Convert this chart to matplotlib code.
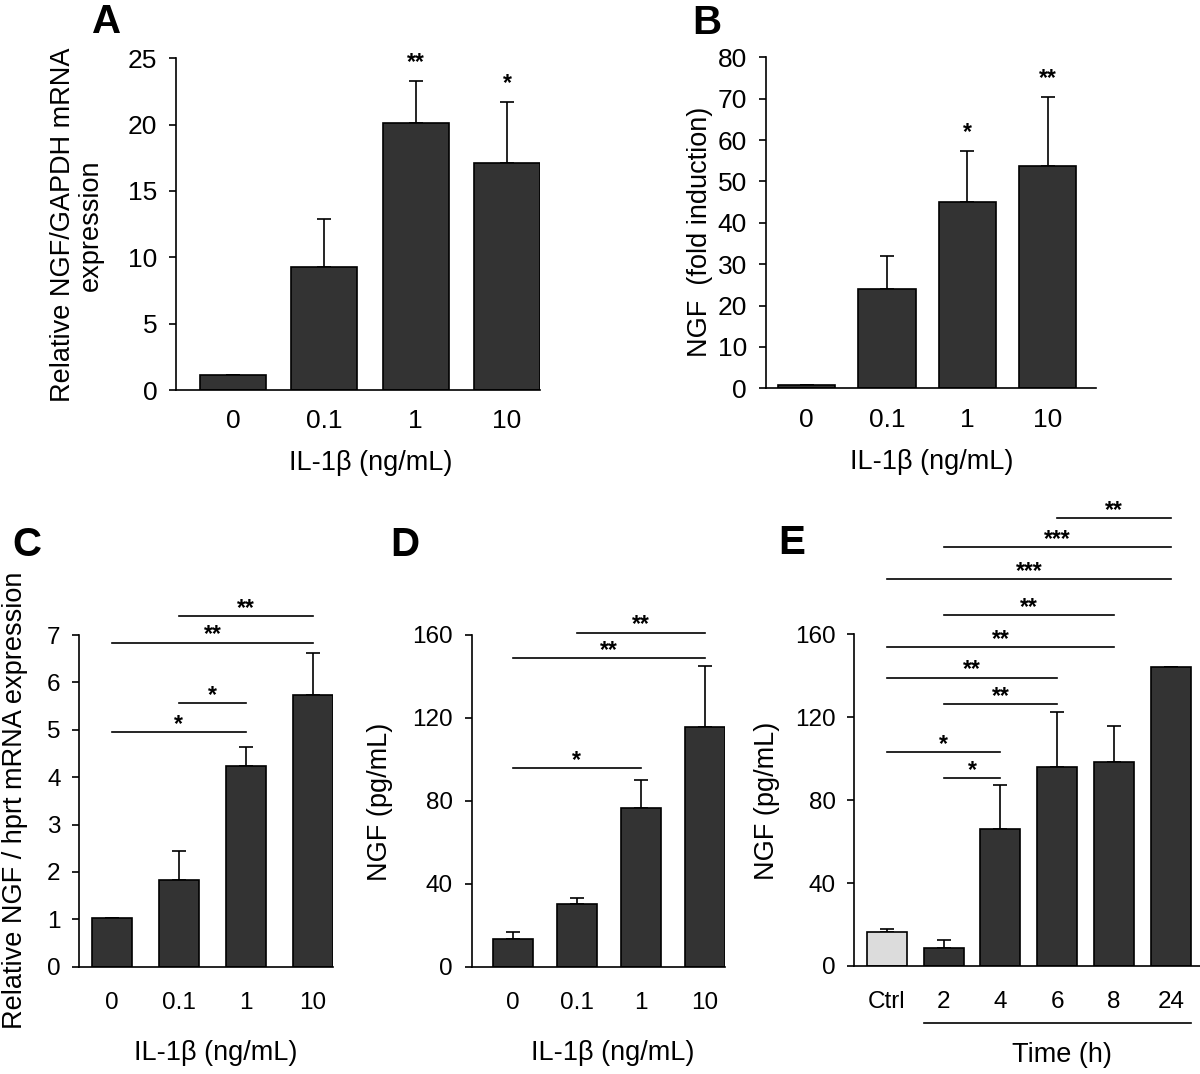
import matplotlib
matplotlib.use('Agg')
import matplotlib.pyplot as plt

plt.rcParams['font.family'] = ['Liberation Sans', 'DejaVu Sans']

W, H = 1200, 1074

# panel A: NGF/GAPDH mRNA
doses = ['0', '0.1', '1', '10']
a_mean = [1.1, 9.25, 20.15, 17.1]
a_err = [0, 3.65, 3.15, 4.6]
a_stars = ['', '', '**', '*']

# panel B: fold induction
b_mean = [0.8, 24.1, 45.1, 53.8]
b_err = [0, 7.9, 12.3, 16.7]
b_stars = ['', '', '*', '**']

# panel C: NGF/hprt mRNA
c_mean = [1.02, 1.83, 4.24, 5.73]
c_err = [0, 0.62, 0.39, 0.90]
c_pairs = [(1, 3), (0, 3), (1, 2), (0, 2)]
c_sig_y = [7.40, 6.84, 5.56, 4.95]
c_sig = ['**', '**', '*', '*']

# panel D: NGF protein vs dose
d_mean = [13.3, 30.1, 76.7, 115.6]
d_err = [3.4, 3.2, 13.3, 29.4]
d_pairs = [(1, 3), (0, 3), (0, 2)]
d_sig_y = [161.1, 148.7, 95.8]
d_sig = ['**', '**', '*']

# panel E: NGF protein vs time
times = ['Ctrl', '2', '4', '6', '8', '24']
e_mean = [16.6, 8.5, 65.9, 95.8, 98.6, 144.2]
e_err = [1.1, 4.0, 21.4, 26.7, 17.3, 0]
e_pairs = [(3, 5), (1, 5), (0, 5), (1, 4), (0, 4), (0, 3), (1, 3), (0, 2), (1, 2)]
e_sig_y = [216.0, 201.9, 186.7, 169.3, 153.9, 139.1, 126.4, 103.2, 90.5]
e_sig = ['**', '***', '***', '**', '**', '**', '**', '*', '*']

DARK = '#333333'
LIGHT = '#dcdcdc'
LAB = 19.5
STAR = 16.5

fig = plt.figure(figsize=(12, 10.74), dpi=100)


def px_axes(left, right, top, bottom):
    return fig.add_axes([left / W, 1 - bottom / H, (right - left) / W, (bottom - top) / H])


def ftext(x, y, s, **kw):
    fig.text(x / W, 1 - y / H, s, **kw)


def style(ax, xlim, ylim, yticks, labels, fs, xpad):
    ax.set_xlim(*xlim)
    ax.set_ylim(*ylim)
    ax.set_yticks(yticks)
    ax.set_xticks(range(len(labels)))
    ax.set_xticklabels(labels)
    for s in ['top', 'right']:
        ax.spines[s].set_visible(False)
    for s in ['left', 'bottom']:
        ax.spines[s].set_linewidth(1.2)
    ax.tick_params(axis='y', length=5, width=1.2, pad=8.5, labelsize=fs)
    ax.tick_params(axis='x', length=0, pad=xpad, labelsize=fs)


def bars(ax, means, errs, width, colors=DARK):
    x = list(range(len(means)))
    ax.errorbar(x, means, yerr=[[0] * len(errs), errs], fmt='none', ecolor='black',
                elinewidth=1.2, capsize=5, capthick=1.2, zorder=1)
    ax.bar(x, means, width=width, color=colors, edgecolor='black', linewidth=1.2, zorder=2)


def stars_above(ax, means, errs, stars):
    for i, (m, e, s) in enumerate(zip(means, errs, stars)):
        if s:
            ax.annotate(s, xy=(i, m + e), xytext=(0, 8.5), textcoords='offset points',
                        ha='center', va='baseline', fontsize=STAR, fontweight='bold',
                        annotation_clip=False)


def brackets(ax, pairs, ys, labels):
    for (i, j), y, lab in zip(pairs, ys, labels):
        ax.plot([i, j], [y, y], color='black', lw=1.2, clip_on=False)
        ax.annotate(lab, xy=((i + j) / 2, y), xytext=(0, 1.0), textcoords='offset points',
                    ha='center', va='baseline', fontsize=STAR, fontweight='bold',
                    annotation_clip=False)


# ---- A ----
ax = px_axes(176, 540, 58.3, 390)
bars(ax, a_mean, a_err, 0.726)
style(ax, (-0.624, 3.361), (0, 25), range(0, 26, 5), doses, 19, 14)
stars_above(ax, a_mean, a_err, a_stars)
ftext(77, 225, 'Relative NGF/GAPDH mRNA\nexpression', rotation=90, ha='center', va='center',
      fontsize=LAB, multialignment='center', linespacing=1.1)
ftext(371, 463, 'IL-1β (ng/mL)', ha='center', va='center', fontsize=LAB)
ftext(107, 22, 'A', ha='center', va='center', fontsize=29, fontweight='bold')

# ---- B ----
ax = px_axes(765.7, 1095.7, 57.3, 388.3)
bars(ax, b_mean, b_err, 0.716)
style(ax, (-0.511, 3.60), (0, 80), range(0, 81, 10), doses, 19, 14)
stars_above(ax, b_mean, b_err, b_stars)
ftext(700, 232, 'NGF  (fold induction)', rotation=90, ha='center', va='center', fontsize=LAB)
ftext(932, 462, 'IL-1β (ng/mL)', ha='center', va='center', fontsize=LAB)
ftext(707, 23, 'B', ha='center', va='center', fontsize=29, fontweight='bold')

# ---- C ----
ax = px_axes(79.3, 333, 635, 966.7)
bars(ax, c_mean, c_err, 0.596)
style(ax, (-0.483, 3.298), (0, 7), range(0, 8), doses, 17.5, 18)
brackets(ax, c_pairs, c_sig_y, c_sig)
ftext(15, 800, 'Relative NGF / hprt mRNA expression', rotation=90, ha='center', va='center', fontsize=LAB)
ftext(216, 1053, 'IL-1β (ng/mL)', ha='center', va='center', fontsize=LAB)
ftext(27, 545, 'C', ha='center', va='center', fontsize=29, fontweight='bold')

# ---- D ----
ax = px_axes(471.7, 725, 635, 966.7)
bars(ax, d_mean, d_err, 0.626)
style(ax, (-0.642, 3.32), (0, 160), range(0, 161, 40), doses, 17.5, 18)
brackets(ax, d_pairs, d_sig_y, d_sig)
ftext(380, 802, 'NGF (pg/mL)', rotation=90, ha='center', va='center', fontsize=LAB)
ftext(613, 1053, 'IL-1β (ng/mL)', ha='center', va='center', fontsize=LAB)
ftext(405, 545, 'D', ha='center', va='center', fontsize=29, fontweight='bold')

# ---- E ----
ax = px_axes(854.3, 1200, 634.3, 966)
bars(ax, e_mean, e_err, 0.703, colors=[LIGHT] + [DARK] * (len(e_mean) - 1))
style(ax, (-0.569, 5.51), (0, 160), range(0, 161, 40), times, 17.5, 18)
brackets(ax, e_pairs, e_sig_y, e_sig)
ax.plot([1 - 0.703 / 2, len(times) - 1 + 0.703 / 2], [-0.173, -0.173], color='black', lw=1.2,
        transform=ax.get_xaxis_transform(), clip_on=False)
ftext(767, 801, 'NGF (pg/mL)', rotation=90, ha='center', va='center', fontsize=LAB)
ftext(1062, 1055, 'Time (h)', ha='center', va='center', fontsize=LAB)
ftext(792, 543, 'E', ha='center', va='center', fontsize=29, fontweight='bold')

fig.savefig('out.png', dpi=100)
